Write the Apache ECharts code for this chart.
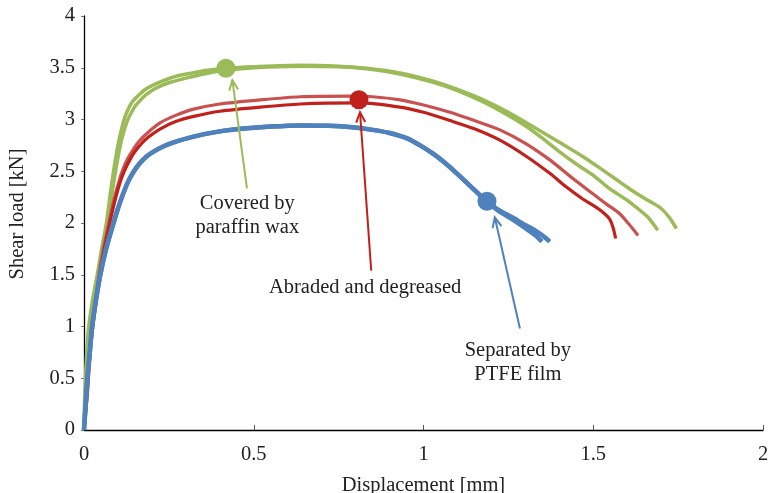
<!DOCTYPE html>
<html>
<head>
<meta charset="utf-8">
<script src="https://cdn.jsdelivr.net/npm/echarts@6/dist/echarts.min.js"></script>
<style>html,body{margin:0;padding:0;background:#fff}#c{width:770px;height:493px}</style>
</head>
<body>
<div id="c"></div>
<script>
const xTicks = [0, 0.5, 1, 1.5, 2];
const yTicks = [0, 0.5, 1, 1.5, 2, 2.5, 3, 3.5, 4];

const greenOuter = [[0,0],[0.002,0.3],[0.008,0.75],[0.014,1.0],[0.025,1.25],[0.039,1.5],[0.052,1.75],[0.066,2.0],[0.076,2.25],[0.087,2.5],[0.1,2.75],[0.11,2.9],[0.12,3.02],[0.13,3.1],[0.14,3.16],[0.153,3.21],[0.166,3.25],[0.18,3.29],[0.196,3.32],[0.23,3.37],[0.274,3.42],[0.32,3.45],[0.362,3.475],[0.418,3.495],[0.5,3.51],[0.637,3.525],[0.75,3.515],[0.833,3.495],[0.93,3.45],[1.029,3.37],[1.1,3.29],[1.176,3.19],[1.25,3.07],[1.323,2.93],[1.4,2.78],[1.47,2.64],[1.52,2.53],[1.568,2.42],[1.598,2.35],[1.63,2.28],[1.666,2.21],[1.7,2.14],[1.725,2.05],[1.745,1.945]];
const greenInner = [[0,0],[0.003,0.3],[0.01,0.75],[0.017,1.0],[0.028,1.25],[0.042,1.5],[0.056,1.75],[0.07,2.0],[0.081,2.25],[0.093,2.5],[0.107,2.75],[0.117,2.88],[0.128,2.99],[0.14,3.07],[0.153,3.14],[0.167,3.19],[0.183,3.24],[0.21,3.30],[0.25,3.355],[0.3,3.40],[0.36,3.445],[0.418,3.475],[0.5,3.50],[0.637,3.515],[0.75,3.51],[0.833,3.49],[0.93,3.44],[1.029,3.36],[1.1,3.28],[1.176,3.17],[1.25,3.04],[1.3,2.94],[1.35,2.82],[1.4,2.69],[1.45,2.57],[1.50,2.46],[1.549,2.33],[1.6,2.22],[1.627,2.15],[1.66,2.06],[1.69,1.93]];
const redLight = [[0,0],[0.008,0.35],[0.016,0.75],[0.024,1.0],[0.034,1.25],[0.044,1.5],[0.057,1.75],[0.073,2.0],[0.085,2.18],[0.1,2.37],[0.115,2.52],[0.13,2.63],[0.145,2.71],[0.162,2.79],[0.19,2.88],[0.225,2.97],[0.27,3.04],[0.323,3.10],[0.4,3.15],[0.519,3.19],[0.637,3.22],[0.79,3.225],[0.85,3.22],[0.931,3.19],[1.0,3.14],[1.078,3.07],[1.15,2.99],[1.225,2.90],[1.3,2.77],[1.372,2.61],[1.44,2.43],[1.5,2.28],[1.54,2.18],[1.578,2.09],[1.605,1.99],[1.632,1.88]];
const redDark = [[0,0],[0.01,0.35],[0.018,0.75],[0.026,1.0],[0.036,1.25],[0.046,1.5],[0.06,1.75],[0.076,2.0],[0.09,2.2],[0.105,2.38],[0.12,2.51],[0.135,2.61],[0.15,2.69],[0.17,2.77],[0.19,2.83],[0.225,2.91],[0.27,2.98],[0.323,3.03],[0.4,3.08],[0.519,3.12],[0.637,3.15],[0.81,3.16],[0.93,3.12],[1.0,3.07],[1.078,2.99],[1.15,2.91],[1.225,2.80],[1.3,2.65],[1.372,2.48],[1.42,2.35],[1.47,2.23],[1.50,2.17],[1.53,2.10],[1.548,2.04],[1.558,1.96],[1.566,1.85]];
const blue1 = [[0,0],[0.005,0.25],[0.01,0.5],[0.017,0.75],[0.024,1.0],[0.035,1.25],[0.048,1.5],[0.065,1.75],[0.087,2.0],[0.1,2.14],[0.115,2.28],[0.13,2.4],[0.147,2.5],[0.165,2.58],[0.185,2.645],[0.205,2.69],[0.23,2.735],[0.26,2.775],[0.323,2.835],[0.4,2.885],[0.47,2.912],[0.55,2.932],[0.637,2.943],[0.72,2.94],[0.79,2.925],[0.85,2.9],[0.9,2.87],[0.95,2.82],[0.99,2.75],[1.028,2.67],[1.06,2.59],[1.098,2.48],[1.14,2.35],[1.186,2.21],[1.22,2.13],[1.264,2.05],[1.3,1.98],[1.323,1.94],[1.35,1.88],[1.372,1.82]];
const blue2 = [[0,0],[0.005,0.25],[0.01,0.5],[0.017,0.75],[0.024,1.0],[0.035,1.25],[0.048,1.5],[0.065,1.75],[0.087,2.0],[0.1,2.14],[0.115,2.28],[0.13,2.4],[0.147,2.5],[0.165,2.58],[0.185,2.645],[0.205,2.69],[0.23,2.735],[0.26,2.775],[0.323,2.835],[0.4,2.885],[0.47,2.912],[0.55,2.932],[0.637,2.943],[0.72,2.94],[0.79,2.925],[0.85,2.9],[0.9,2.87],[0.95,2.82],[0.99,2.75],[1.028,2.67],[1.06,2.59],[1.098,2.48],[1.14,2.35],[1.186,2.21],[1.22,2.12],[1.264,2.03],[1.3,1.95],[1.33,1.88],[1.349,1.82]];
const markerGreen = [[0.418, 3.495]];
const markerRed = [[0.81, 3.19]];
const markerBlue = [[1.187, 2.21]];

const annotations = [
  {lines:['Covered by','paraffin wax'], color:'#9BBB59', tail:[0.48,2.335], head:[0.437,3.38], text:[0.481,2.19]},
  {lines:['Abraded and degreased'], color:'#C0211A', tail:[0.846,1.54], head:[0.813,3.07], text:[0.828,1.38]},
  {lines:['Separated by','PTFE film'], color:'#4F81BD', tail:[1.284,0.98], head:[1.21,2.055], text:[1.278,0.77]}
];

const FONT = '"Liberation Serif", "DejaVu Serif", serif';
const FS = 20.5;
const chart = echarts.init(document.getElementById('c'));

function lineSeries(data, color, width) {
  return {type:'line', data:data, showSymbol:false, smooth:0.25, lineStyle:{color:color, width:width}, silent:true, z:2};
}
function markerSeries(data, color) {
  return {type:'scatter', data:data, symbol:'circle', symbolSize:19, itemStyle:{color:color, opacity:1}, z:5};
}

chart.setOption({
  animation:false,
  grid:{left:84, right:7, top:16, bottom:63, containLabel:false, outerBoundsMode:'none'},
  xAxis:{
    type:'value', min:xTicks[0], max:xTicks[xTicks.length-1], interval:0.5,
    axisLine:{lineStyle:{color:'#000', width:1.3}},
    axisTick:{inside:true, length:5, lineStyle:{color:'#555'}},
    axisLabel:{fontFamily:FONT, fontSize:FS, color:'#222', margin:14},
    splitLine:{show:false},
    name:'Displacement [mm]', nameLocation:'middle', nameGap:45,
    nameTextStyle:{fontFamily:FONT, fontSize:FS, color:'#222'}
  },
  yAxis:{
    type:'value', min:yTicks[0], max:yTicks[yTicks.length-1], interval:0.5,
    axisLine:{show:true, lineStyle:{color:'#000', width:1.3}},
    axisTick:{show:true, inside:false, length:3, lineStyle:{color:'#777'}},
    axisLabel:{fontFamily:FONT, fontSize:FS, color:'#222', margin:9},
    splitLine:{show:false},
    name:'Shear load [kN]', nameLocation:'middle', nameGap:56, nameRotate:90,
    nameTextStyle:{fontFamily:FONT, fontSize:FS, color:'#222', padding:[0,0,0,18]}
  },
  series:[
    lineSeries(greenOuter, '#9BBB59', 3.5),
    lineSeries(greenInner, '#9BBB59', 3.5),
    lineSeries(redLight, '#C9514F', 3.2),
    lineSeries(redDark, '#C0211A', 3.2),
    lineSeries(blue1, '#4F81BD', 4.5),
    lineSeries(blue2, '#4F81BD', 4.5),
    markerSeries(markerGreen, '#9BBB59'),
    markerSeries(markerRed, '#C0211A'),
    markerSeries(markerBlue, '#4F81BD')
  ]
});

const g = [];
annotations.forEach(a => {
  const t = chart.convertToPixel({gridIndex:0}, a.tail);
  const h = chart.convertToPixel({gridIndex:0}, a.head);
  g.push({type:'line', shape:{x1:t[0], y1:t[1], x2:h[0], y2:h[1]}, style:{stroke:a.color, lineWidth:2}, z:10});
  const ang = Math.atan2(h[1]-t[1], h[0]-t[0]);
  const L = 11, sp = 0.42;
  const p1 = [h[0]-L*Math.cos(ang-sp), h[1]-L*Math.sin(ang-sp)];
  const p2 = [h[0]-L*Math.cos(ang+sp), h[1]-L*Math.sin(ang+sp)];
  g.push({type:'polyline', shape:{points:[p1, h, p2]}, style:{stroke:a.color, lineWidth:2, fill:null}, z:10});
  const p = chart.convertToPixel({gridIndex:0}, a.text);
  a.lines.forEach((ln, i) => {
    g.push({type:'text', x:p[0], y:p[1] + i*24, style:{text:ln, fontFamily:FONT, fontSize:FS, fill:'#222', align:'center', verticalAlign:'middle'}, z:10});
  });
});
chart.setOption({graphic:g});
</script>
</body>
</html>
